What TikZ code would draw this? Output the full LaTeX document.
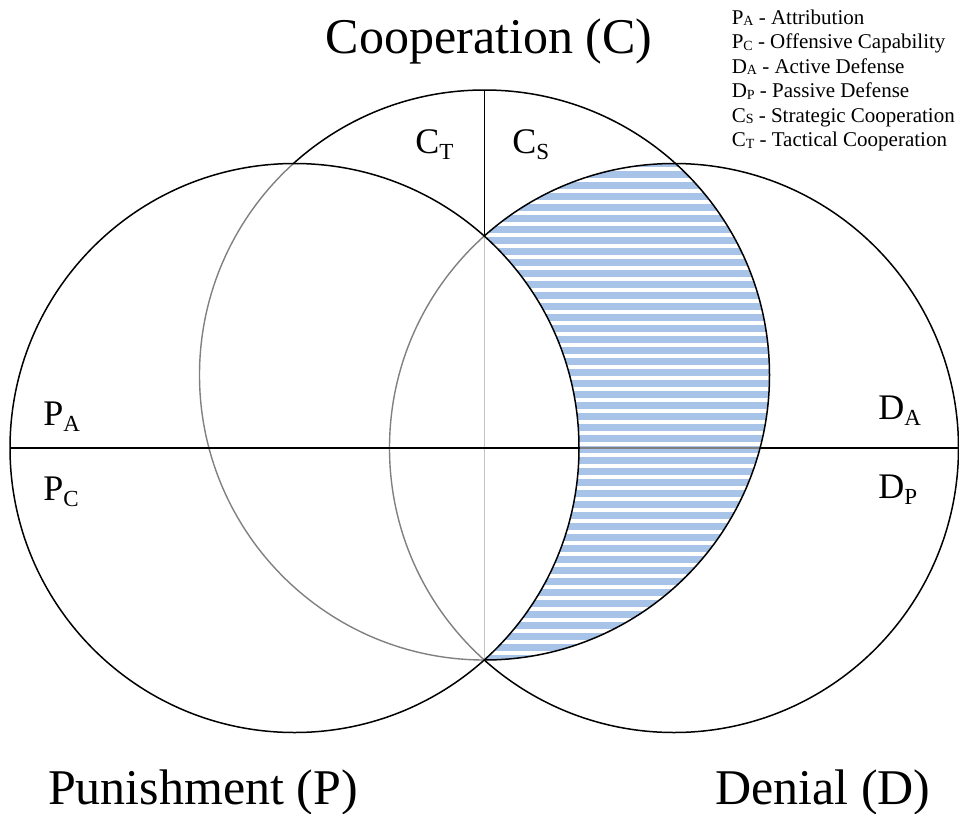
\documentclass[tikz,border=0pt]{standalone}
\usepackage{fontspec}
\setmainfont{Liberation Serif}
\definecolor{hatchblue}{RGB}{167,196,232}
\definecolor{arcgrey}{RGB}{128,128,128}
\definecolor{vgrey}{RGB}{195,195,195}
\newcommand\bigsub[1]{\raisebox{-6pt}{\fontsize{23}{23}\selectfont #1}}
\newcommand\smallsub[1]{\raisebox{-1.5pt}{\fontsize{14}{14}\selectfont #1}}
\newcommand\radLR{284.5pt}
\newcommand\radT{285pt}
\begin{document}
\begin{tikzpicture}[x=1pt,y=-1pt,line width=1.5pt,
  greyline/.style={arcgrey,line width=1.4pt},
  biglabel/.style={inner sep=0pt,anchor=base,font=\fontsize{50}{50}\selectfont},
  seglabel/.style={inner sep=0pt,anchor=base west,font=\fontsize{36}{36}\selectfont},
  legendline/.style={inner sep=0pt,anchor=base west,font=\fontsize{21}{21}\selectfont}]
\useasboundingbox (0,0) rectangle (959,814);
\coordinate (L) at (294.5,448);
\coordinate (R) at (674,448);
\coordinate (T) at (484.5,375);
\coordinate (top) at (484.5,90);
\coordinate (up) at (484.5,236.2);
\coordinate (low) at (484.5,659.8);
\coordinate (hl) at (10,448);
\coordinate (hm1) at (579,448);
\coordinate (hm2) at (760,448);
\coordinate (hr) at (958.5,448);
% hatched region: inside T and R, outside L
\begin{scope}
  \clip (T) circle[radius=\radT];
  \clip (R) circle[radius=\radLR];
  \foreach \k in {-21,...,26}
    \fill[hatchblue] (480,380+11*\k) rectangle (790,386.8+11*\k);
  \fill[white] (L) circle[radius=\radLR];
\end{scope}
% grey parts inside the punishment circle
\begin{scope}
  \clip (L) circle[radius=\radLR];
  \draw[greyline] (T) circle[radius=\radT];
  \draw[greyline] (R) circle[radius=\radLR];
\end{scope}
\draw[vgrey,line width=1.4pt] (up) -- (low);
\draw[greyline] (hm1) -- (hm2);
% black parts outside the punishment circle
\begin{scope}[even odd rule]
  \clip (-20,-20) rectangle (980,840) (L) circle[radius=\radLR];
  \draw (T) circle[radius=\radT];
  \draw (R) circle[radius=\radLR];
\end{scope}
\draw (L) circle[radius=\radLR];
\draw (top) -- (up);
\draw (hl) -- (hm1);
\draw (hm2) -- (hr);
% titles
\node[biglabel] (coop) at (489,53) {Cooperation (C)};
\node[biglabel] (pun) at (203,804) {Punishment (P)};
\node[biglabel] (den) at (823,804) {Denial (D)};
% segment labels
\node[seglabel] (pa) at (42.5,425) {P\bigsub{A}};
\node[seglabel] (pc) at (42.5,500.5) {P\bigsub{C}};
\node[seglabel] (da) at (877.5,419) {D\bigsub{A}};
\node[seglabel] (dp) at (877.5,498) {D\bigsub{P}};
\node[seglabel] (ct) at (414.5,153) {C\bigsub{T}};
\node[seglabel] (cs) at (511.5,153) {C\bigsub{S}};
% legend
\node[legendline] (l1) at (731,24) {P\smallsub{A} - Attribution};
\node[legendline] (l2) at (731,48.5) {P\smallsub{C} - Offensive Capability};
\node[legendline] (l3) at (731,73) {D\smallsub{A} - Active Defense};
\node[legendline] (l4) at (731,97.5) {D\smallsub{P} - Passive Defense};
\node[legendline] (l5) at (731,122) {C\smallsub{S} - Strategic Cooperation};
\node[legendline] (l6) at (731,146.5) {C\smallsub{T} - Tactical Cooperation};
\end{tikzpicture}
\end{document}
